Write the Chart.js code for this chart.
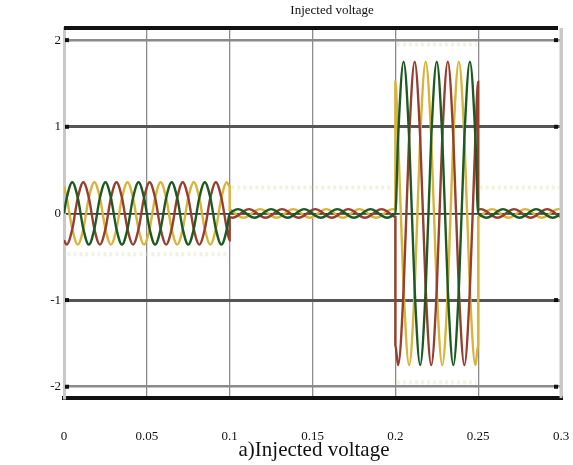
<!DOCTYPE html>
<html>
<head>
<meta charset="utf-8">
<script src="https://cdn.jsdelivr.net/npm/chart.js@4.4.1/dist/chart.umd.min.js"></script>
<style>
  html, body { margin: 0; padding: 0; background: #ffffff; }
  #wrap { position: relative; width: 573px; height: 465px; overflow: hidden; }
  #c { position: absolute; left: 0; top: 0; }
  .txt { position: absolute; font-family: "Liberation Serif", "Times New Roman", serif; color: #111; white-space: nowrap; transform: translateX(-50%); }
  #title { left: 332px; top: 2px; font-size: 13px; }
  #caption { left: 314px; top: 437px; font-size: 21px; }
</style>
</head>
<body>
<div id="wrap">
  <canvas id="c" width="573" height="465"></canvas>
  <div id="title" class="txt">Injected voltage</div>
  <div id="caption" class="txt">a)Injected voltage</div>
</div>
<script>
// ---- Data ----
const seriesNames = ["Phase a", "Phase b", "Phase c"];

const timeS = [0,
  0.00167,0.005,0.00833,0.01167,0.015,0.01833,
  0.02167,0.025,0.02833,0.03167,0.035,0.03833,
  0.04167,0.045,0.04833,0.05167,0.055,0.05833,
  0.06167,0.065,0.06833,0.07167,0.075,0.07833,
  0.08167,0.085,0.08833,0.09167,0.095,0.09833,
  0.1,0.1,
  0.10167,0.105,0.10833,0.11167,0.115,0.11833,
  0.12167,0.125,0.12833,0.13167,0.135,0.13833,
  0.14167,0.145,0.14833,0.15167,0.155,0.15833,
  0.16167,0.165,0.16833,0.17167,0.175,0.17833,
  0.18167,0.185,0.18833,0.19167,0.195,0.19833,
  0.2,0.2,
  0.20167,0.205,0.20833,0.21167,0.215,0.21833,
  0.22167,0.225,0.22833,0.23167,0.235,0.23833,
  0.24167,0.245,0.24833,
  0.25,0.25,
  0.25167,0.255,0.25833,
  0.26167,0.265,0.26833,0.27167,0.275,0.27833,
  0.28167,0.285,0.28833,0.29167,0.295,0.29833,
  0.3];

const phaseA = [0,
  0.18,0.36,0.18,-0.18,-0.36,-0.18,
  0.18,0.36,0.18,-0.18,-0.36,-0.18,
  0.18,0.36,0.18,-0.18,-0.36,-0.18,
  0.18,0.36,0.18,-0.18,-0.36,-0.18,
  0.18,0.36,0.18,-0.18,-0.36,-0.18,
  0,0,
  0.025,0.05,0.025,-0.025,-0.05,-0.025,
  0.025,0.05,0.025,-0.025,-0.05,-0.025,
  0.025,0.05,0.025,-0.025,-0.05,-0.025,
  0.025,0.05,0.025,-0.025,-0.05,-0.025,
  0.025,0.05,0.025,-0.025,-0.05,-0.025,
  0,0,
  0.875,1.75,0.875,-0.875,-1.75,-0.875,
  0.875,1.75,0.875,-0.875,-1.75,-0.875,
  0.875,1.75,0.875,
  0,0,
  -0.025,-0.05,-0.025,
  0.025,0.05,0.025,-0.025,-0.05,-0.025,
  0.025,0.05,0.025,-0.025,-0.05,-0.025,
  0];

const phaseB = [-0.31,
  -0.36,-0.18,0.18,0.36,0.18,-0.18,
  -0.36,-0.18,0.18,0.36,0.18,-0.18,
  -0.36,-0.18,0.18,0.36,0.18,-0.18,
  -0.36,-0.18,0.18,0.36,0.18,-0.18,
  -0.36,-0.18,0.18,0.36,0.18,-0.18,
  -0.31,-0.043,
  -0.05,-0.025,0.025,0.05,0.025,-0.025,
  -0.05,-0.025,0.025,0.05,0.025,-0.025,
  -0.05,-0.025,0.025,0.05,0.025,-0.025,
  -0.05,-0.025,0.025,0.05,0.025,-0.025,
  -0.05,-0.025,0.025,0.05,0.025,-0.025,
  -0.043,-1.52,
  -1.75,-0.875,0.875,1.75,0.875,-0.875,
  -1.75,-0.875,0.875,1.75,0.875,-0.875,
  -1.75,-0.875,0.875,
  1.52,0.043,
  0.05,0.025,-0.025,
  -0.05,-0.025,0.025,0.05,0.025,-0.025,
  -0.05,-0.025,0.025,0.05,0.025,-0.025,
  -0.043];

const phaseC = [0.31,
  0.18,-0.18,-0.36,-0.18,0.18,0.36,
  0.18,-0.18,-0.36,-0.18,0.18,0.36,
  0.18,-0.18,-0.36,-0.18,0.18,0.36,
  0.18,-0.18,-0.36,-0.18,0.18,0.36,
  0.18,-0.18,-0.36,-0.18,0.18,0.36,
  0.31,0.043,
  0.025,-0.025,-0.05,-0.025,0.025,0.05,
  0.025,-0.025,-0.05,-0.025,0.025,0.05,
  0.025,-0.025,-0.05,-0.025,0.025,0.05,
  0.025,-0.025,-0.05,-0.025,0.025,0.05,
  0.025,-0.025,-0.05,-0.025,0.025,0.05,
  0.043,1.52,
  0.875,-0.875,-1.75,-0.875,0.875,1.75,
  0.875,-0.875,-1.75,-0.875,0.875,1.75,
  0.875,-0.875,-1.75,
  -1.52,-0.043,
  -0.025,0.025,0.05,
  0.025,-0.025,-0.05,-0.025,0.025,0.05,
  0.025,-0.025,-0.05,-0.025,0.025,0.05,
  0.043];

// faint pale traces visible behind the waveforms
const ghostTime = [0.002, 0.099, 0.1, 0.101, 0.199, 0.2, 0.201, 0.249, 0.25, 0.251, 0.299];
const ghostUpper = [-0.47, -0.47, null, 0.3, 0.3, null, 1.95, 1.95, null, 0.3, 0.3];
const ghostLower = [null, null, null, null, null, null, -1.95, -1.95, null, null, null];

const xTicks = [0, 0.05, 0.1, 0.15, 0.2, 0.25, 0.3];
const xTickLabels = ["0", "0.05", "0.1", "0.15", "0.2", "0.25", "0.3"];
const yTicks = [-2, -1, 0, 1, 2];
const yTickLabels = ["-2", "-1", "0", "1", "2"];

// ---- Styling ----
const colors = ["#1d5a22", "#963f2e", "#d8b43a"];
const ghostColor = "rgba(225,228,185,0.45)";
const font = { family: "'Liberation Serif', 'Times New Roman', serif", size: 13 };

function toPoints(times, vals) { return times.map((t, i) => ({ x: t, y: vals[i] })); }

const framePlugin = {
  id: "frame",
  afterDraw(chart) {
    const { ctx, chartArea: a, scales } = chart;
    ctx.save();
    // top thick line
    ctx.strokeStyle = "#111";
    ctx.lineWidth = 4;
    ctx.beginPath();
    ctx.moveTo(a.left, a.top);
    ctx.lineTo(a.right - 3, a.top);
    ctx.stroke();
    // right light border
    ctx.strokeStyle = "#c8c8c8";
    ctx.lineWidth = 3;
    ctx.beginPath();
    ctx.moveTo(a.right, a.top);
    ctx.lineTo(a.right, a.bottom);
    ctx.stroke();
    // small end markers on the horizontal grid lines
    ctx.fillStyle = "#111";
    yTicks.forEach(v => {
      if (v === 0) return;
      const y = scales.y.getPixelForValue(v);
      ctx.fillRect(a.left + 1, y - 2, 4, 4);
      ctx.fillRect(a.right - 7, y - 2, 4, 4);
    });
    ctx.restore();
  }
};

const waveStyle = { borderWidth: 2.4, pointRadius: 0, fill: false, cubicInterpolationMode: "monotone" };
const ghostStyle = { borderWidth: 4, pointRadius: 0, fill: false, borderColor: ghostColor, borderDash: [3, 3], spanGaps: false };

new Chart(document.getElementById("c"), {
  type: "line",
  data: {
    datasets: [
      Object.assign({ label: seriesNames[0], data: toPoints(timeS, phaseA), borderColor: colors[0] }, waveStyle),
      Object.assign({ label: seriesNames[1], data: toPoints(timeS, phaseB), borderColor: colors[1] }, waveStyle),
      Object.assign({ label: seriesNames[2], data: toPoints(timeS, phaseC), borderColor: colors[2] }, waveStyle),
      Object.assign({ label: "ghost upper", data: toPoints(ghostTime, ghostUpper) }, ghostStyle),
      Object.assign({ label: "ghost lower", data: toPoints(ghostTime, ghostLower) }, ghostStyle)
    ]
  },
  options: {
    responsive: false,
    animation: false,
    events: [],
    layout: { padding: { left: 0, right: 12, top: 28, bottom: 0 } },
    plugins: { legend: { display: false }, tooltip: { enabled: false }, title: { display: false } },
    scales: {
      x: {
        type: "linear", min: 0, max: 0.3,
        afterBuildTicks: s => { s.ticks = xTicks.map(v => ({ value: v })); },
        afterFit: s => { s.height = 67; },
        ticks: {
          font, color: "#111", padding: 1, maxRotation: 0, autoSkip: false,
          callback: (v) => { const i = xTicks.indexOf(v); return i >= 0 ? xTickLabels[i] : ""; }
        },
        grid: {
          drawTicks: true, tickLength: 30, tickColor: "rgba(0,0,0,0)",
          color: c => (c.tick && (c.tick.value === 0 || c.tick.value === 0.3)) ? "#c8c8c8" : "#8c8c8c",
          lineWidth: c => (c.tick && (c.tick.value === 0 || c.tick.value === 0.3)) ? 3 : 1.3
        },
        border: { display: true, color: "#111", width: 4 }
      },
      y: {
        type: "linear", min: -2.13, max: 2.14,
        afterBuildTicks: s => { s.ticks = yTicks.map(v => ({ value: v })); },
        afterFit: s => { s.width = 64; },
        ticks: {
          font, color: "#111", padding: 3,
          callback: (v) => { const i = yTicks.indexOf(v); return i >= 0 ? yTickLabels[i] : ""; }
        },
        grid: {
          drawTicks: false,
          color: c => {
            const v = c.tick ? c.tick.value : null;
            if (v === 2 || v === -2) return "#8a8a8a";
            if (v === 0) return "#3a3a3a";
            return "#555555";
          },
          lineWidth: c => {
            const v = c.tick ? c.tick.value : null;
            if (v === 2 || v === -2) return 2.5;
            if (v === 0) return 1.8;
            return 3;
          }
        },
        border: { display: true, color: "#c8c8c8", width: 3 }
      }
    }
  },
  plugins: [framePlugin]
});
</script>
</body>
</html>
